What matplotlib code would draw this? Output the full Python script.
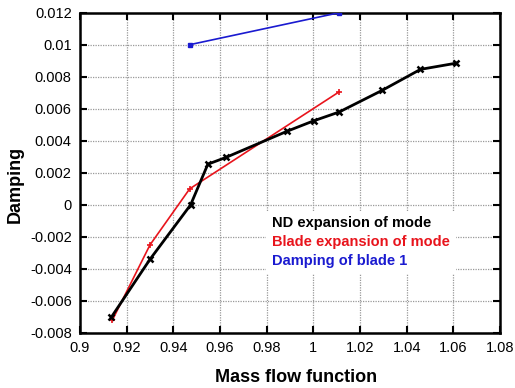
import matplotlib.pyplot as plt

plt.rcParams['font.family'] = ['Liberation Sans', 'DejaVu Sans']

# ND expansion of mode
nd_x = [0.9135, 0.930, 0.9474, 0.9548, 0.9625, 0.9888, 1.0002, 1.0111, 1.0295, 1.0459, 1.0613]
nd_y = [-0.0070, -0.0034, 0.0000, 0.00254, 0.00296, 0.0046, 0.00525, 0.0058, 0.00715, 0.00846, 0.00885]

# Blade expansion of mode
blade_x = [0.9138, 0.930, 0.947, 1.0111]
blade_y = [-0.00722, -0.0025, 0.0010, 0.00706]

# Damping of blade 1
blade1_x = [0.947, 1.0111]
blade1_y = [0.0100, 0.0120]

x_ticks = [0.9, 0.92, 0.94, 0.96, 0.98, 1.0, 1.02, 1.04, 1.06, 1.08]
x_labels = ['0.9', '0.92', '0.94', '0.96', '0.98', '1', '1.02', '1.04', '1.06', '1.08']
y_ticks = [-0.008, -0.006, -0.004, -0.002, 0.0, 0.002, 0.004, 0.006, 0.008, 0.01, 0.012]
y_labels = ['-0.008', '-0.006', '-0.004', '-0.002', '0', '0.002', '0.004', '0.006', '0.008', '0.01', '0.012']

fig = plt.figure(figsize=(5.15, 3.88), dpi=100)
ax = fig.add_axes([0.1553, 0.1418, 0.8156, 0.8255])

ax.plot(nd_x, nd_y, color='black', lw=2.0, marker='x', ms=4.5, mew=1.8,
        label='ND expansion of mode', zorder=4)
ax.plot(blade_x, blade_y, color='#e8141c', lw=1.2, marker='+', ms=5, mew=1.2,
        label='Blade expansion of mode', zorder=3)
ax.plot(blade1_x, blade1_y, color='#1a1ad0', lw=1.2, marker='s', ms=3.5,
        label='Damping of blade 1', zorder=3)

ax.set_xlim(0.9, 1.08)
ax.set_ylim(-0.008, 0.012)
ax.set_xticks(x_ticks)
ax.set_xticklabels(x_labels)
ax.set_yticks(y_ticks)
ax.set_yticklabels(y_labels)
ax.tick_params(direction='in', length=5, width=1.5, top=True, right=True,
               labelsize=10.5, pad=6)
for s in ax.spines.values():
    s.set_linewidth(1.8)
ax.grid(True, color='#999999', linestyle=(0, (1, 1)), linewidth=0.9)

ax.set_xlabel('Mass flow function', fontsize=13, fontweight='bold')
ax.xaxis.set_label_coords(0.515, -0.112)
ax.set_ylabel('Damping', fontsize=13, fontweight='bold')
ax.yaxis.set_label_coords(-0.133, 0.4625)

leg = ax.legend(loc='upper left', bbox_to_anchor=(0.426, 0.405), handlelength=0,
                handletextpad=0, labelcolor='linecolor', frameon=True,
                edgecolor='none', framealpha=1, fancybox=False,
                prop={'weight': 'bold', 'size': 10.5}, labelspacing=0.32,
                borderpad=0.4)
for h in leg.legend_handles:
    h.set_visible(False)

fig.savefig('out.png', dpi=100)
